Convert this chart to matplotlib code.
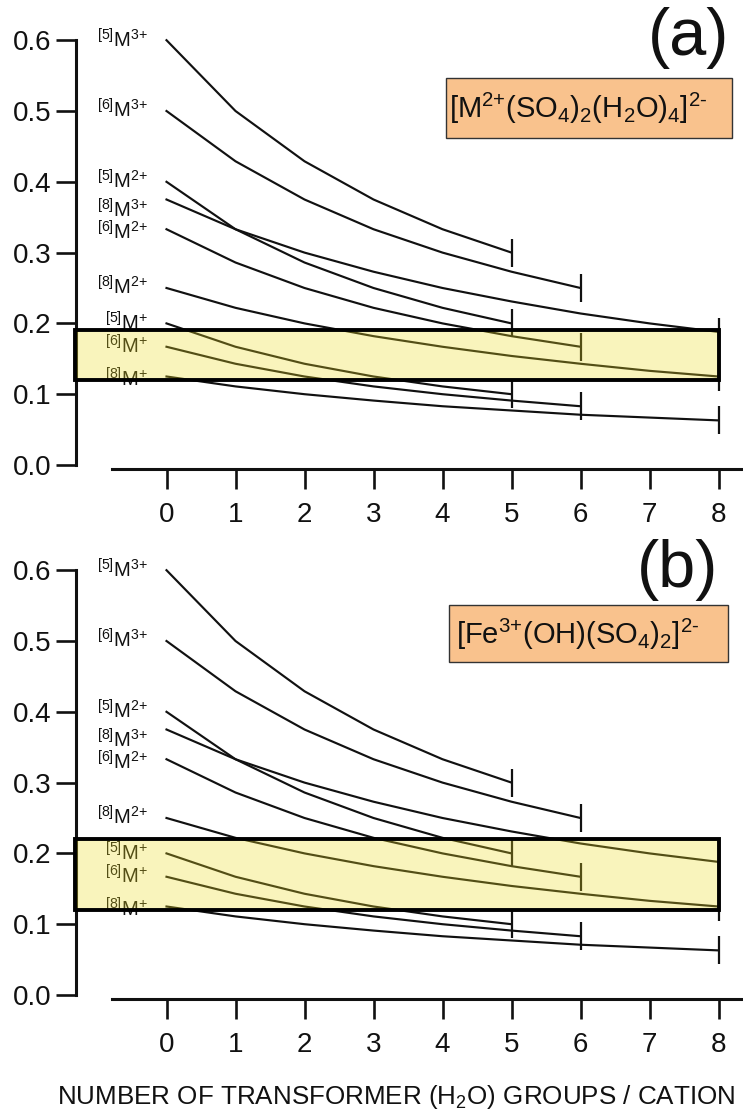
import matplotlib
matplotlib.use("Agg")
import matplotlib.pyplot as plt
from matplotlib.patches import Rectangle

plt.rcParams['font.family'] = ['Liberation Sans', 'DejaVu Sans']
plt.rcParams['mathtext.fontset'] = 'custom'
plt.rcParams['mathtext.rm'] = 'Liberation Sans'
plt.rcParams['mathtext.it'] = 'Liberation Sans:italic'
plt.rcParams['mathtext.bf'] = 'Liberation Sans:bold'
plt.rcParams['mathtext.default'] = 'regular'

# Lewis acid strength (v.u.) vs. number of transformer H2O groups per cation
series_names = ['[5]M3+', '[6]M3+', '[5]M2+', '[8]M3+', '[6]M2+',
                '[8]M2+', '[5]M+', '[6]M+', '[8]M+']
series_labels = [r'$^{[5]}$M$^{3\text{+}}$', r'$^{[6]}$M$^{3\text{+}}$',
                 r'$^{[5]}$M$^{2\text{+}}$', r'$^{[8]}$M$^{3\text{+}}$',
                 r'$^{[6]}$M$^{2\text{+}}$', r'$^{[8]}$M$^{2\text{+}}$',
                 r'$^{[5]}$M$^{\text{+}}$', r'$^{[6]}$M$^{\text{+}}$',
                 r'$^{[8]}$M$^{\text{+}}$']

m5_3 = [0.600, 0.500, 0.429, 0.375, 0.333, 0.300]
m6_3 = [0.500, 0.429, 0.375, 0.333, 0.300, 0.273, 0.250]
m5_2 = [0.400, 0.333, 0.286, 0.250, 0.222, 0.200]
m8_3 = [0.375, 0.333, 0.300, 0.273, 0.250, 0.231, 0.214, 0.200, 0.188]
m6_2 = [0.333, 0.286, 0.250, 0.222, 0.200, 0.182, 0.167]
m8_2 = [0.250, 0.222, 0.200, 0.182, 0.167, 0.154, 0.143, 0.133, 0.125]
m5_1 = [0.200, 0.167, 0.143, 0.125, 0.111, 0.100]
m6_1 = [0.167, 0.143, 0.125, 0.111, 0.100, 0.091, 0.083]
m8_1 = [0.125, 0.111, 0.100, 0.091, 0.083, 0.077, 0.071, 0.067, 0.063]
series_values = [m5_3, m6_3, m5_2, m8_3, m6_2, m8_2, m5_1, m6_1, m8_1]

x_ticks = [0, 1, 2, 3, 4, 5, 6, 7, 8]
y_ticks = [0.0, 0.1, 0.2, 0.3, 0.4, 0.5, 0.6]
y_ticklabels = ['0.0', '0.1', '0.2', '0.3', '0.4', '0.5', '0.6']

panel_tags = ['(a)', '(b)']
panel_formulas = [r'[M$^{2\text{+}}$(SO$_4$)$_2$(H$_2$O)$_4$]$^{2\text{-}}$',
                  r'[Fe$^{3\text{+}}$(OH)(SO$_4$)$_2$]$^{2\text{-}}$']
# range of Lewis basicity of each structural unit
basicity_ranges = [(0.12, 0.19), (0.12, 0.22)]

x_title = 'NUMBER OF TRANSFORMER (H$_2$O) GROUPS / CATION'

# small vertical nudges for curve labels that would otherwise collide
label_nudge = {'[8]M3+': -0.015, '[6]M2+': -0.005, '[8]M+': -0.005}

W, H = 743, 1118
fig = plt.figure(figsize=(W / 100, H / 100), dpi=100)

XL = (-1.7, 8.35)
YL = (-0.015, 0.655)
px_per_x = 69.0
px_per_y = 708.0
x0_px = 166.5
zero_px = [465.0, 995.0]

left_px = x0_px + XL[0] * px_per_x
width_px = (XL[1] - XL[0]) * px_per_x
height_px = (YL[1] - YL[0]) * px_per_y

ink = '#111111'

for k in range(2):
    bottom_px = zero_px[k] - YL[0] * px_per_y
    ax = fig.add_axes([left_px / W, 1 - bottom_px / H, width_px / W, height_px / H])
    ax.set_xlim(*XL)
    ax.set_ylim(*YL)
    ax.patch.set_visible(False)

    for sp in ('top', 'right'):
        ax.spines[sp].set_visible(False)
    ax.spines['left'].set_position(('data', -1.31))
    ax.spines['left'].set_bounds(0.0, 0.6)
    ax.spines['bottom'].set_position(('data', -0.006))
    ax.spines['bottom'].set_bounds(-0.79, 8.33)
    for sp in ('left', 'bottom'):
        ax.spines[sp].set_linewidth(2.2)
        ax.spines[sp].set_color(ink)

    ax.set_xticks(x_ticks)
    ax.set_xticklabels([str(t) for t in x_ticks])
    ax.set_yticks(y_ticks)
    ax.set_yticklabels(y_ticklabels)
    ax.tick_params(axis='both', direction='out', length=14.5, width=1.9,
                   colors=ink, labelsize=20)
    ax.tick_params(axis='x', pad=9)
    ax.tick_params(axis='y', pad=3)

    for name, lab, vals in zip(series_names, series_labels, series_values):
        xs = list(range(len(vals)))
        ax.plot(xs, vals, color=ink, lw=1.55, solid_joinstyle='round', zorder=3)
        ax.plot([xs[-1]], [vals[-1]], marker='|', ms=19.5, mew=1.6,
                color=ink, zorder=3)
        ax.text(-0.27, vals[0] + label_nudge.get(name, 0.0) - 0.0098, lab,
                ha='right', va='baseline', fontsize=14.5, color=ink, zorder=3)

    lo, hi = basicity_ranges[k]
    ax.add_patch(Rectangle((-1.33, lo), 8 + 1.33, hi - lo, facecolor='#EEDD22',
                           alpha=0.3, edgecolor='none', zorder=5, clip_on=False))
    ax.add_patch(Rectangle((-1.33, lo), 8 + 1.33, hi - lo, facecolor='none',
                           edgecolor='black', lw=2.8, zorder=6, clip_on=False))

    # structural-unit formula box and panel tag
    if k == 0:
        bx, by, bw, bh = 4.05, 0.462, 4.15, 0.085
        tx, ty = 4.10, 0.503
        gx, gy = 8.15, 0.603
    else:
        bx, by, bw, bh = 4.09, 0.470, 4.05, 0.081
        tx, ty = 4.20, 0.509
        gx, gy = 8.0, 0.600
    ax.add_patch(Rectangle((bx, by), bw, bh, facecolor='#F9C28D',
                           edgecolor='#333333', lw=1.0, zorder=4, clip_on=False))
    ax.text(tx, ty, panel_formulas[k], ha='left', va='center', fontsize=21,
            color=ink, zorder=5)
    ax.text(gx, gy, panel_tags[k], ha='right', va='center', fontsize=48,
            color=ink, zorder=5)

fig.text(396 / W, 1 - 1097 / H, x_title, ha='center', va='center',
         fontsize=18.7, color=ink)

fig.savefig('out.png', dpi=100, facecolor='white')
